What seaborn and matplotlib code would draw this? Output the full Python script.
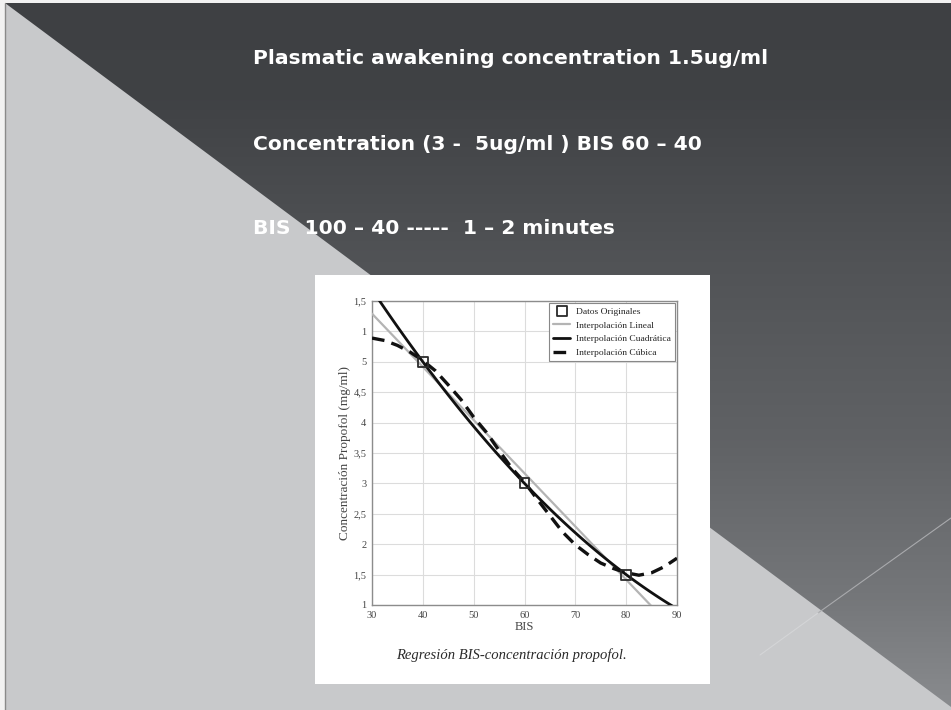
import numpy as np
import pandas as pd
import matplotlib
matplotlib.use("Agg")
import matplotlib.pyplot as plt
from matplotlib.patches import Polygon, Rectangle
import seaborn as sns

# --- slide text ---
SLIDE_LINES = [
    "Plasmatic awakening concentration 1.5ug/ml",
    "Concentration (3 -  5ug/ml ) BIS 60 \u2013 40",
    "BIS  100 \u2013 40 -----  1 \u2013 2 minutes",
]

# --- chart data ---
bis_points = [40, 60, 80]
conc_points = [5.0, 3.0, 1.5]

# cubic curve
cubic_bis = [30, 32.5, 35, 37.5, 40, 42.5, 45, 47.5, 50, 52.5, 55, 57.5, 60,
             62.5, 65, 67.5, 70, 72.5, 75, 77.5, 80, 82.5, 85, 87.5, 90]
cubic_conc = [5.39, 5.35, 5.27, 5.16, 5.02, 4.85, 4.62, 4.38, 4.09, 3.84, 3.54, 3.25, 3.02,
              2.74, 2.47, 2.20, 1.99, 1.83, 1.69, 1.60, 1.53, 1.49, 1.53, 1.63, 1.77]

x_ticks = [30, 40, 50, 60, 70, 80, 90]
y_ticks = [1, 1.5, 2, 2.5, 3, 3.5, 4, 4.5, 5, 5.5, 6]
y_tick_labels = ["1", "1,5", "2", "2,5", "3", "3,5", "4", "4,5", "5", "1", "1,5"]

LEGEND_LABELS = ["Datos Originales", "Interpolación Lineal",
                 "Interpolación Cuadrática", "Interpolación Cúbica"]

W, H = 951, 710

sns.set_style("whitegrid")
plt.rcParams["font.family"] = ["DejaVu Sans"]

fig = plt.figure(figsize=(W / 100, H / 100), dpi=100)

# --- background ---
bg = fig.add_axes([0, 0, 1, 1])
bg.set_xlim(0, W)
bg.set_ylim(H, 0)
bg.axis("off")

rows = np.arange(H)
stops_y = [0, 100, 250, 440, 600, 710]
stops_v = [62, 64, 80, 96, 117, 138]
shade = np.interp(rows, stops_y, stops_v) / 255.0
grad = np.stack([shade, shade + 2 / 255, shade + 5 / 255], axis=-1)[:, None, :]
grad = np.repeat(grad, 2, axis=1)
bg.imshow(np.clip(grad, 0, 1), extent=[0, W, H, 0], aspect="auto", zorder=0)

bg.add_patch(Polygon([[5, 3], [W, 707], [W, H], [5, H]], closed=True,
                     facecolor="#c8c9cb", edgecolor="none", zorder=1))
bg.add_patch(Rectangle((0, 0), W, 3, facecolor="#f2f2f2", edgecolor="none", zorder=2))
bg.add_patch(Rectangle((0, 0), 5, H, facecolor="#f2f2f2", edgecolor="none", zorder=2))
bg.plot([5, 5], [3, H], color="#8a8a8a", lw=1, zorder=3)
bg.plot([W, 818], [518, 613], color="#a9aaad", lw=0.8, zorder=3)
bg.plot([818, 760], [613, 655], color="#d4d5d7", lw=0.8, zorder=3)

texts = []
for txt, yc in zip(SLIDE_LINES, [58, 145, 229]):
    t = bg.text(253, yc, txt, color="white", fontsize=14, fontweight="bold",
                ha="left", va="center", zorder=4)
    texts.append(t)

# fit the headline width to the slide (first line spans ~522 px)
fig.canvas.draw()
w0 = texts[0].get_window_extent().width
size = 14 * 515 / w0
for t in texts:
    t.set_fontsize(size)

# white inset frame
bg.add_patch(Rectangle((315, 275), 395, 409, facecolor="white", edgecolor="none", zorder=5))
bg.text(511, 655, "Regresión BIS-concentración propofol.", family="Liberation Serif",
        style="italic", fontsize=10.5, color="#2a2a2a", ha="center", va="center", zorder=6)

# --- chart ---
ax = fig.add_axes([372 / W, 1 - 605 / H, 305 / W, 304 / H])
ax.set_facecolor("white")
ax.set_xlim(30, 90)
ax.set_ylim(1, 6)

df = pd.DataFrame({"BIS": bis_points, "conc": conc_points})
cubic_df = pd.DataFrame({"BIS": cubic_bis, "conc": cubic_conc})

sns.scatterplot(data=df, x="BIS", y="conc", ax=ax, marker="s", s=50,
                facecolors="none", edgecolor="#2a2a2a", linewidth=1.3,
                label=LEGEND_LABELS[0], zorder=6)
sns.regplot(data=df, x="BIS", y="conc", ax=ax, order=1, ci=None, scatter=False,
            truncate=False, label=LEGEND_LABELS[1],
            line_kws={"color": "#b4b4b4", "lw": 1.6, "zorder": 3})
sns.regplot(data=df, x="BIS", y="conc", ax=ax, order=2, ci=None, scatter=False,
            truncate=False, label=LEGEND_LABELS[2],
            line_kws={"color": "#111111", "lw": 2.0, "zorder": 4})
sns.lineplot(data=cubic_df, x="BIS", y="conc", ax=ax, color="#111111", lw=2.4,
             dashes=False, linestyle=(0, (3.8, 2.2)), label=LEGEND_LABELS[3], zorder=5)

ax.set_xlim(30, 90)
ax.set_ylim(1, 6)
ax.set_xticks(x_ticks)
ax.set_xticklabels([str(t) for t in x_ticks])
ax.set_yticks(y_ticks)
ax.set_yticklabels(y_tick_labels)
ax.grid(True, color="#dcdcdc", lw=0.8)
for sp in ax.spines.values():
    sp.set_visible(True)
    sp.set_color("#8c8c8c")
    sp.set_linewidth(1.0)
ax.tick_params(axis="both", length=0, labelsize=7.5, labelcolor="#444444")
ax.tick_params(axis="x", pad=4)
ax.tick_params(axis="y", pad=4)
for lab in ax.get_xticklabels() + ax.get_yticklabels():
    lab.set_family("Liberation Serif")
ax.set_xlabel("BIS", family="Liberation Serif", fontsize=9, color="#444444", labelpad=1)
ax.set_ylabel("Concentración Propofol (mg/ml)", family="Liberation Serif",
              fontsize=9.5, color="#444444", labelpad=2)

handles, labels = ax.get_legend_handles_labels()
order = [labels.index(l) for l in LEGEND_LABELS]
leg = ax.legend([handles[i] for i in order], LEGEND_LABELS, loc="upper right",
                prop={"family": "Liberation Serif", "size": 6.8},
                frameon=True, fancybox=False, framealpha=1, edgecolor="#888888",
                borderaxespad=0.2, handlelength=1.8, handletextpad=0.6,
                labelspacing=0.55, borderpad=0.45)
leg.get_frame().set_linewidth(0.8)

fig.savefig("out.png", dpi=100)
